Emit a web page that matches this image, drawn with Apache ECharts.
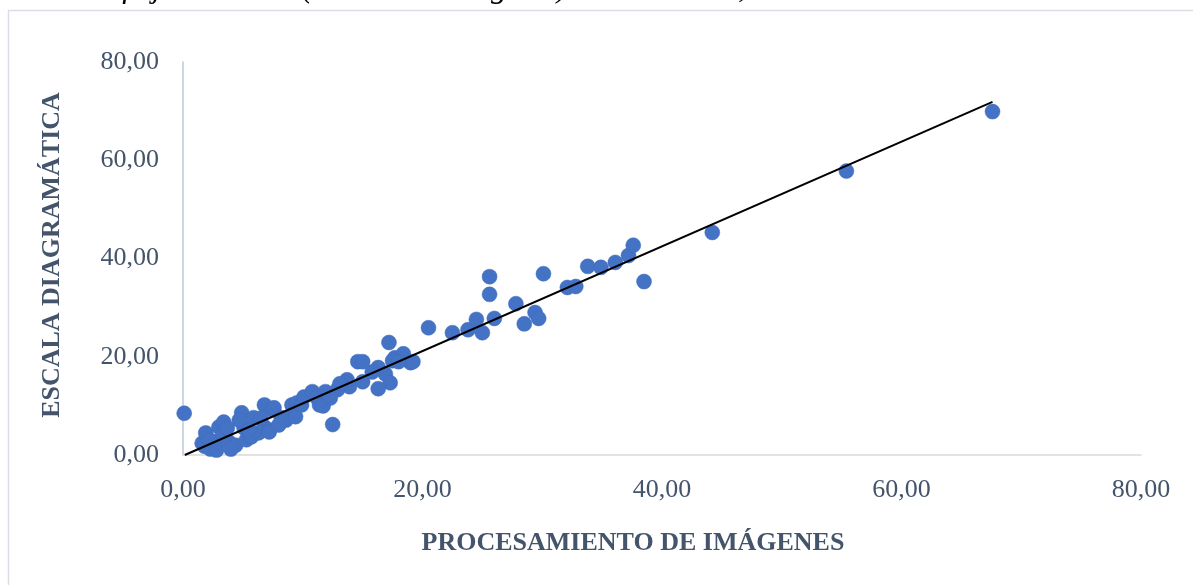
<!DOCTYPE html>
<html><head><meta charset="utf-8">
<script src="https://cdn.jsdelivr.net/npm/echarts@6/dist/echarts.min.js"></script>
<style>html,body{margin:0;padding:0;background:#fff;}#c{width:1193px;height:585px;}</style>
</head><body><div id="c"></div>
<script>
// Image processing (x) vs diagrammatic scale (y), severity %
const xValues = [0.1,1.6,1.8,1.9,2.3,2.8,2.8,3.0,3.4,3.4,3.3,3.8,4.4,4.0,4.9,5.1,5.3,5.7,5.9,6.3,6.8,6.8,7.2,7.4,7.6,7.2,8.2,8.3,8.6,9.1,9.1,9.5,9.4,
  2.2,3.7,4.7,5.5,6.5,8.0,9.9,10.1,
  10.8,11.2,11.4,11.7,11.9,12.5,12.9,13.7,13.9,13.5,14.6,15.0,15.0,16.3,16.9,17.3,16.3,17.2,17.7,17.5,18.4,19.0,19.2,
  12.3,13.1,15.8,18.0,
  20.5,22.5,23.8,24.5,25.0,25.6,25.6,26.0,27.8,28.5,29.4,29.7,30.1,32.1,32.8,33.8,34.9,36.1,37.2,37.6,38.5,44.2,55.4,67.6];
const yValues = [8.5,2.4,1.8,4.5,1.2,1.0,2.7,5.7,6.7,4.7,3.9,2.7,2.0,1.2,8.6,5.5,3.1,3.7,7.6,4.5,10.2,5.7,5.1,9.2,9.6,4.7,7.6,7.1,7.1,8.2,10.2,10.6,7.8,
  3.1,5.5,7.1,5.1,7.5,6.1,10.2,11.8,
  12.9,11.6,10.2,10.0,12.9,6.2,13.3,15.3,13.9,14.7,19.0,19.0,14.9,17.8,16.5,14.7,13.5,22.9,19.8,19.2,20.6,18.8,19.0,
  11.6,14.5,16.9,19.0,
  25.9,24.9,25.5,27.6,24.9,36.3,32.7,27.8,30.8,26.7,29.0,27.8,36.9,34.1,34.3,38.4,38.2,39.2,40.6,42.7,35.3,45.3,57.8,69.9];
const trendX = [0.15, 67.6];
const trendY = [0.0, 71.9];
const axisTicks = [0, 20, 40, 60, 80];

const points = xValues.map((x, i) => [x, yValues[i]]);
const trend = trendX.map((x, i) => [x, trendY[i]]);
const fmt = v => v.toFixed(2).replace('.', ',');
const serif = '"Liberation Serif", "DejaVu Serif", serif';
const titleColor = '#44546A';

const chart = echarts.init(document.getElementById('c'));
chart.setOption({
  animation: false,
  backgroundColor: '#fff',
  graphic: [
    { type: 'rect', shape: { x: 8.5, y: 10.5, width: 1200, height: 600 }, style: { fill: 'none', stroke: '#D9DEE6', lineWidth: 1.5 }, z: -1 },
    { type: 'text', left: -4, top: -27, style: { text: 'varias de frijol caraota (Phaseolus vulgaris).          R² = 0,9600', font: 'italic 32px ' + serif, fill: '#000' } },
    { type: 'text', x: 633, y: 543, style: { text: 'PROCESAMIENTO DE IMÁGENES', font: 'bold 26px ' + serif, fill: titleColor, align: 'center', verticalAlign: 'middle' } },
    { type: 'text', x: 52, y: 255, rotation: Math.PI / 2, style: { text: 'ESCALA DIAGRAMÁTICA', font: 'bold 26px ' + serif, fill: titleColor, align: 'center', verticalAlign: 'middle' } }
  ],
  grid: { left: 183, right: 52, top: 62, bottom: 130 },
  xAxis: {
    type: 'value', min: axisTicks[0], max: axisTicks[axisTicks.length - 1], interval: 20,
    axisLine: { show: true, lineStyle: { color: '#D9D9D9', width: 1.5 } },
    axisTick: { show: false }, splitLine: { show: false },
    axisLabel: { formatter: fmt, fontFamily: serif, fontSize: 26, color: titleColor, margin: 22 }
  },
  yAxis: {
    type: 'value', min: axisTicks[0], max: axisTicks[axisTicks.length - 1], interval: 20,
    axisLine: { show: true, lineStyle: { color: '#BFC8DA', width: 1.5 } },
    axisTick: { show: false }, splitLine: { show: false },
    axisLabel: { formatter: fmt, fontFamily: serif, fontSize: 26, color: titleColor, margin: 24 }
  },
  series: [
    { type: 'scatter', data: points, symbol: 'circle', symbolSize: 15,
      itemStyle: { color: '#4472C4', opacity: 1, borderColor: '#3F6DBF', borderWidth: 0.5 }, z: 2 },
    { type: 'line', data: trend, showSymbol: false, symbol: 'none',
      lineStyle: { color: '#000', width: 2 }, z: 3 }
  ]
});
</script></body></html>
